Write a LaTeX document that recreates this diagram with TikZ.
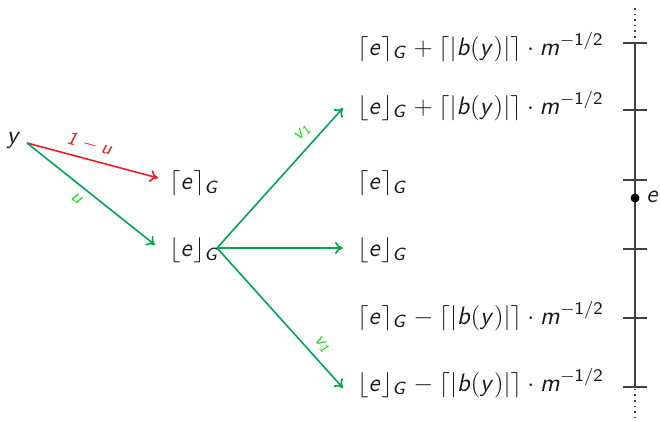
\documentclass[tikz,border=0pt]{standalone}
\usepackage{fix-cm}
\usetikzlibrary{arrows.meta}
\DeclareMathAlphabet{\mathsfit}{OT1}{cmss}{m}{sl}
\newcommand\Ee{\mathsfit{e}}
\newcommand\Gg{\mathsfit{G}}
\newcommand\Bb{\mathsfit{b}}
\newcommand\Yy{\mathsfit{y}}
\newcommand\Mm{\mathsfit{m}}
\newcommand\Uu{\mathsfit{u}}
\newcommand\Vv{\mathsfit{v}}
\newcommand\Bexpr{\lceil|\Bb(\Yy)|\rceil\cdot \Mm^{-\mathsf{1/2}}}
\definecolor{arrgreen}{HTML}{00A651}
\definecolor{lblgreen}{HTML}{22DD22}
\definecolor{arrred}{HTML}{ED1C24}
\definecolor{axgray}{HTML}{404040}
\begin{document}
\begin{tikzpicture}[x=0.5pt,y=-0.5pt,
  every node/.style={font=\fontsize{12.6}{15}\selectfont, text=black!90},
  txt/.style={anchor=west, inner sep=2pt},
  garr/.style={arrgreen, thick, -{To[length=4pt,width=6pt]}},
  rarr/.style={arrred, thick, -{To[length=4pt,width=6pt]}},
  lbl/.style={font=\fontsize{9.5}{10}\selectfont, sloped, inner sep=3.5pt},
  tick/.style={axgray, line width=1pt}]
\useasboundingbox (0,0) rectangle (660,421);
\node[inner sep=1pt] (y) at (14,140) {$\Yy$};
\node[txt] (cg) at (165,183) {$\lceil \Ee\rceil_{\Gg}$};
\node[txt] (fg) at (165,250) {$\lfloor \Ee\rfloor_{\Gg}$};
\node[txt] (r1) at (353,47) {$\lceil \Ee\rceil_{\Gg}+\Bexpr$};
\node[txt] (r2) at (353,106) {$\lfloor \Ee\rfloor_{\Gg}+\Bexpr$};
\node[txt] (r3) at (353,183) {$\lceil \Ee\rceil_{\Gg}$};
\node[txt] (r4) at (353,250) {$\lfloor \Ee\rfloor_{\Gg}$};
\node[txt] (r5) at (353,316) {$\lceil \Ee\rceil_{\Gg}-\Bexpr$};
\node[txt] (r6) at (353,383) {$\lfloor \Ee\rfloor_{\Gg}-\Bexpr$};
\coordinate (ys) at (27,143);
\coordinate (fs) at (217,248);
\draw[rarr] (ys) -- node[lbl, above, text=arrred, pos=0.45] {$\mathsfit{1}-\Uu$} ([xshift=-3.5pt,yshift=2.5pt]cg.west);
\draw[garr] (ys) -- node[lbl, below, text=lblgreen, pos=0.45] {$\Uu$} ([xshift=-5pt,yshift=2.5pt]fg.west);
\draw[garr] (fs) -- node[lbl, above, text=lblgreen, pos=0.76] {$\Vv_{\mathsfit{1}}$} ([xshift=-5pt,yshift=-1pt]r2.west);
\draw[garr] (fs) -- ([xshift=-5pt,yshift=1pt]r4.west);
\draw[garr] (fs) -- node[lbl, above, text=lblgreen, pos=0.76] {$\Vv_{\mathsfit{1}}$} ([xshift=-5pt,yshift=-2.5pt]r6.west);
% axis
\draw[axgray, thick, dotted] (635,8) -- (635,420);
\draw[axgray, line width=1pt] (635,43) -- (635,387);
\foreach \yy in {43,110,180,249,318,387} \draw[tick] (623,\yy) -- (647,\yy);
\fill[black] (635,198) circle (4.5);
\node[anchor=west, inner sep=1pt] (e) at (644,197) {$\Ee$};
\end{tikzpicture}
\end{document}
